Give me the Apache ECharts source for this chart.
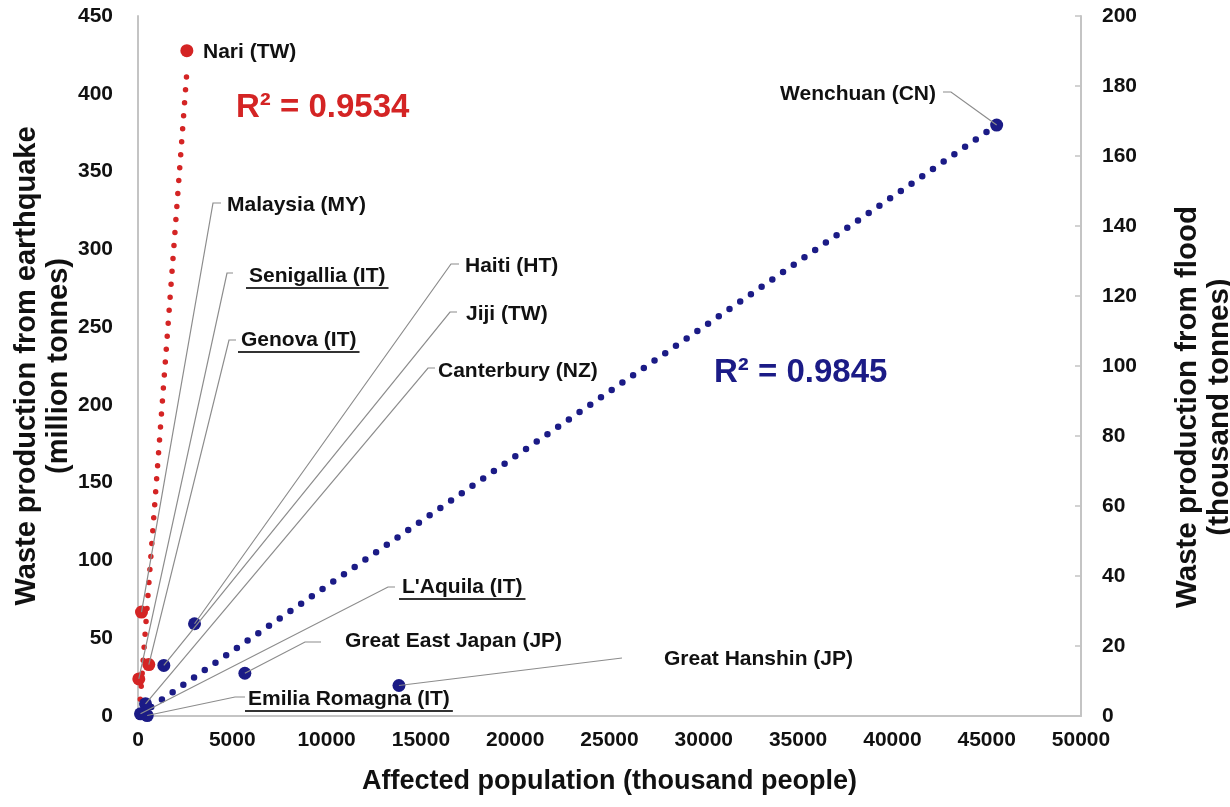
<!DOCTYPE html>
<html lang="en">
<head>
<meta charset="UTF-8">
<title>Waste production vs affected population</title>
<script src="https://cdn.jsdelivr.net/npm/echarts@6/dist/echarts.min.js"></script>
<style>
    html, body { margin: 0; padding: 0; background: #fff; }
    #main { width: 1230px; height: 807px; }
</style>
</head>
<body>
<div id="main"></div>
<script>
// flood events -> right axis (thousand tonnes)
var floodNames = ['Nari (TW)', 'Malaysia (MY)', 'Senigallia (IT)', 'Genova (IT)'];
var floodPop = [2590, 186, 42, 573];
var floodWaste = [190.1, 29.7, 10.6, 14.7];

// earthquake events -> left axis (million tonnes)
var quakeNames = ['Wenchuan (CN)', 'Haiti (HT)', 'Jiji (TW)', 'Canterbury (NZ)', "L'Aquila (IT)",
    'Great East Japan (JP)', 'Great Hanshin (JP)', 'Emilia Romagna (IT)'];
var quakePop = [45528, 2997, 1369, 398, 133, 5666, 13836, 488];
var quakeWaste = [379.9, 59.3, 32.5, 7.8, 1.4, 27.5, 19.6, 0.3];

// fitted trend lines (end points)
var floodTrendPop = [69, 2590];
var floodTrendWaste = [1.1, 184];
var quakeTrendPop = [133, 45528];
var quakeTrendWaste = [1.1, 379.9];

var r2Flood = 'R² = 0.9534';
var r2Quake = 'R² = 0.9845';

// where each name is written (px): text = [left, middle], leader = elbow + stub end
var labelPlace = {
    'Nari (TW)': {text: [203, 52]},
    'Malaysia (MY)': {text: [227, 205], leader: [[213, 203], [221, 203]]},
    'Senigallia (IT)': {text: [249, 276], leader: [[227, 273], [233, 273]]},
    'Genova (IT)': {text: [241, 340], leader: [[229, 340], [236, 340]]},
    'Wenchuan (CN)': {text: [936, 94], align: 'right', leader: [[951, 92], [943, 92]]},
    'Haiti (HT)': {text: [465, 266], leader: [[451, 264], [459, 264]]},
    'Jiji (TW)': {text: [466, 314], leader: [[450, 312], [457, 312]]},
    'Canterbury (NZ)': {text: [438, 371], leader: [[428, 368], [435, 368]]},
    "L'Aquila (IT)": {text: [402, 587], leader: [[388, 587], [395, 587]]},
    'Great East Japan (JP)': {text: [345, 641], leader: [[305, 642], [321, 642]]},
    'Great Hanshin (JP)': {text: [664, 659], leader: [[622, 658]]},
    'Emilia Romagna (IT)': {text: [248, 699], leader: [[235, 697], [245, 697]]}
};
var underlined = ['Senigallia (IT)', 'Genova (IT)', "L'Aquila (IT)", 'Emilia Romagna (IT)'];

var FONT = '"Liberation Sans", Arial, Helvetica, sans-serif';
var RED = '#d42424';
var BLUE = '#1b1b86';

var measure = document.createElement('canvas').getContext('2d');

function pairs(xs, ys) {
    return xs.map(function (x, i) { return [x, ys[i]]; });
}

function labelRenderer(names) {
    return function (params, api) {
        var name = names[params.dataIndex];
        var place = labelPlace[name];
        var p = api.coord([api.value(0), api.value(1)]);
        var font = 'bold 21px ' + FONT;
        var kids = [];
        if (place.leader) {
            kids.push({
                type: 'polyline',
                shape: {points: [p].concat(place.leader)},
                style: {stroke: '#8c8c8c', lineWidth: 1.2, fill: null}
            });
        }
        kids.push({
            type: 'text',
            x: place.text[0],
            y: place.text[1],
            style: {text: name, font: font, fill: '#111', align: place.align || 'left', verticalAlign: 'middle'}
        });
        if (underlined.indexOf(name) >= 0) {
            measure.font = font;
            var w = measure.measureText(name).width;
            kids.push({
                type: 'line',
                shape: {x1: place.text[0] - 3, y1: place.text[1] + 12, x2: place.text[0] + w + 3, y2: place.text[1] + 12},
                style: {stroke: '#333', lineWidth: 2}
            });
        }
        return {type: 'group', children: kids};
    };
}

function plainNumber(v) {
    return String(v);
}

var chart = echarts.init(document.getElementById('main'));

var option = {
    backgroundColor: '#fff',
    animation: false,
    grid: {left: 138, right: 149, top: 16, bottom: 91, containLabel: false, outerBoundsMode: 'none'},
    xAxis: {
        type: 'value',
        min: 0, max: 50000, interval: 5000,
        name: 'Affected population (thousand people)',
        nameLocation: 'middle',
        nameGap: 52,
        nameTextStyle: {fontFamily: FONT, fontWeight: 'bold', fontSize: 27, color: '#111'},
        axisLine: {lineStyle: {color: '#c4c4c4', width: 2}},
        axisTick: {show: false},
        splitLine: {show: false},
        axisLabel: {fontFamily: FONT, fontWeight: 'bold', fontSize: 21, color: '#111', margin: 14, formatter: plainNumber}
    },
    yAxis: [{
        type: 'value',
        position: 'left',
        min: 0, max: 450, interval: 50,
        name: 'Waste production from earthquake\n(million tonnes)',
        nameLocation: 'middle',
        nameRotate: 90,
        nameGap: 63,
        nameMoveOverlap: false,
        nameTextStyle: {fontFamily: FONT, fontWeight: 'bold', fontSize: 29, color: '#111', lineHeight: 32},
        axisLine: {show: true, lineStyle: {color: '#c4c4c4', width: 2}},
        axisTick: {show: false},
        splitLine: {show: false},
        axisLabel: {fontFamily: FONT, fontWeight: 'bold', fontSize: 21, color: '#111', margin: 25, formatter: plainNumber}
    }, {
        type: 'value',
        position: 'right',
        min: 0, max: 200, interval: 20,
        name: 'Waste production from flood\n(thousand tonnes)',
        nameLocation: 'middle',
        nameRotate: 90,
        nameGap: 91,
        nameTextStyle: {fontFamily: FONT, fontWeight: 'bold', fontSize: 29.5, color: '#111', lineHeight: 32,
            padding: [0, 82, 0, 0]},
        axisLine: {show: true, lineStyle: {color: '#c4c4c4', width: 2}},
        axisTick: {show: true, inside: true, length: 6, lineStyle: {color: '#c4c4c4', width: 1.5}},
        splitLine: {show: false},
        axisLabel: {fontFamily: FONT, fontWeight: 'bold', fontSize: 21, color: '#111', margin: 21, formatter: plainNumber}
    }],
    graphic: [{
        type: 'text', left: 236, top: 91,
        style: {text: r2Flood, font: 'bold 33px ' + FONT, fill: RED}
    }, {
        type: 'text', left: 714, top: 356,
        style: {text: r2Quake, font: 'bold 33px ' + FONT, fill: BLUE}
    }],
    series: [{
        type: 'line',
        yAxisIndex: 0,
        data: pairs(quakeTrendPop, quakeTrendWaste),
        showSymbol: false,
        z: 2,
        lineStyle: {color: BLUE, width: 6.5, type: [0, 13], cap: 'round'}
    }, {
        type: 'line',
        yAxisIndex: 1,
        data: pairs(floodTrendPop, floodTrendWaste),
        showSymbol: false,
        z: 2,
        lineStyle: {color: RED, width: 5.5, type: [0, 13], cap: 'round'}
    }, {
        type: 'scatter',
        yAxisIndex: 1,
        data: pairs(floodPop, floodWaste),
        symbolSize: 13,
        z: 3,
        itemStyle: {color: RED, opacity: 1}
    }, {
        type: 'scatter',
        yAxisIndex: 0,
        data: pairs(quakePop, quakeWaste),
        symbolSize: 13,
        z: 3,
        itemStyle: {color: BLUE, opacity: 1}
    }, {
        type: 'custom',
        yAxisIndex: 1,
        data: pairs(floodPop, floodWaste),
        renderItem: labelRenderer(floodNames),
        z: 4,
        silent: true
    }, {
        type: 'custom',
        yAxisIndex: 0,
        data: pairs(quakePop, quakeWaste),
        renderItem: labelRenderer(quakeNames),
        z: 4,
        silent: true
    }]
};

chart.setOption(option);
</script>
</body>
</html>
